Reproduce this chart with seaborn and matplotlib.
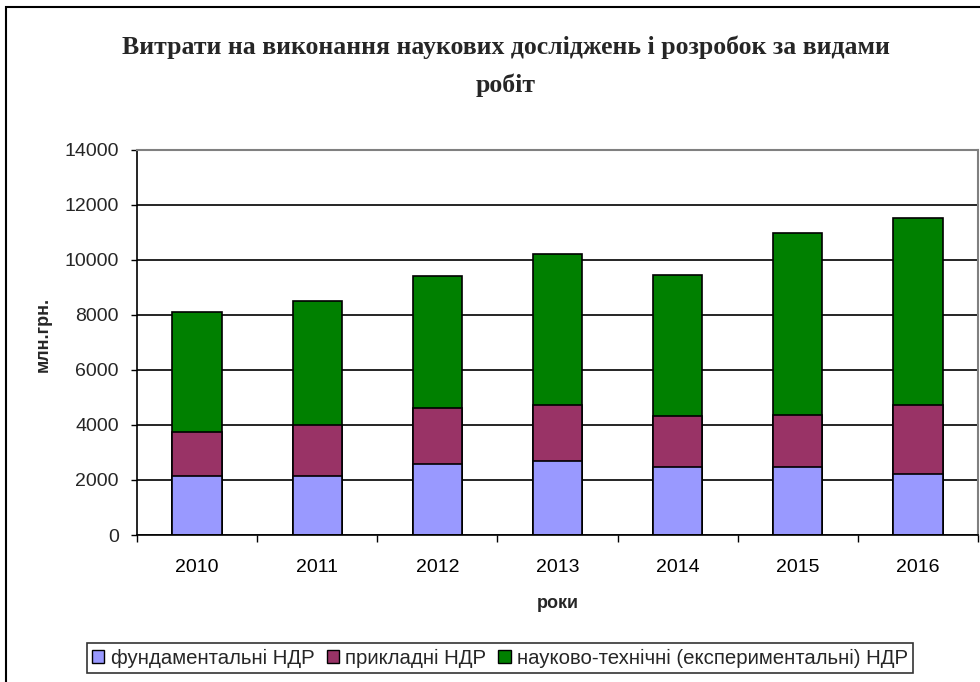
import matplotlib
matplotlib.use("Agg")
import matplotlib.pyplot as plt
import seaborn as sns
import numpy as np
import pandas as pd
from matplotlib.patches import Patch, Rectangle

years = ["2010", "2011", "2012", "2013", "2014", "2015", "2016"]
fundamental = [2160, 2160, 2585, 2706, 2464, 2464, 2221]
applied = [1578, 1833, 2051, 2039, 1881, 1917, 2524]
experimental = [4357, 4526, 4769, 5473, 5109, 6602, 6772]

series_names = ["фундаментальні НДР", "прикладні НДР",
                "науково-технічні (експериментальні) НДР"]
colors = ["#9999FF", "#993366", "#008000"]

title_line1 = "Витрати на виконання наукових досліджень і розробок за видами"
title_line2 = "робіт"
ylabel = "млн.грн."
xlabel = "роки"

sns.set_theme(style="white")
plt.rcParams['font.family'] = ['Liberation Sans', 'DejaVu Sans']

W, H = 980, 682
fig = plt.figure(figsize=(W / 100, H / 100), dpi=100)
ax = fig.add_axes([137 / W, 1 - 535 / H, (978 - 137) / W, (535 - 150) / H])

df = pd.DataFrame({"year": years, "f": fundamental, "a": applied, "e": experimental})
df["top_a"] = df["f"] + df["a"]
df["top_e"] = df["top_a"] + df["e"]

for col, c in zip(["top_e", "top_a", "f"], colors[::-1]):
    sns.barplot(data=df, x="year", y=col, color=c, edgecolor="black",
                linewidth=1.2, width=0.41, saturation=1, ax=ax, order=years)

ax.set_ylim(0, 14000)
ax.set_xlim(-0.5, len(years) - 0.5)
ax.set_yticks(np.arange(0, 14001, 2000))
ax.set_yticklabels([str(v) for v in range(0, 14001, 2000)], fontsize=14)
ax.set_xticks(range(len(years)))
ax.set_xticklabels(years, fontsize=14)
ax.set_xticks(np.arange(-0.5, len(years), 1), minor=True)
ax.tick_params(axis="x", which="major", length=0, pad=17, colors="black")
ax.tick_params(axis="x", which="minor", length=5, width=1, color="black", direction="out", bottom=True)
ax.tick_params(axis="y", which="major", length=4, width=1, color="black", direction="out", left=True, pad=9)

ax.yaxis.grid(True, color="black", linewidth=1.2)
ax.set_axisbelow(True)
for s in ["left", "bottom"]:
    ax.spines[s].set_color("black")
    ax.spines[s].set_linewidth(1.2)
for s in ["top", "right"]:
    ax.spines[s].set_color("#808080")
    ax.spines[s].set_linewidth(1.5)

ax.set_xlabel(xlabel, fontsize=13, fontweight="bold")
ax.xaxis.set_label_coords(0.5, -(604 - 535) / (535 - 150))
ax.set_ylabel(ylabel, fontsize=13, fontweight="bold")
ax.yaxis.set_label_coords(-(137 - 43) / (978 - 137), (535 - 334) / (535 - 150))
ax.yaxis.label.set_va("center")
ax.xaxis.label.set_va("center")

fig.text(506 / W, 1 - 47 / H, title_line1,
         ha="center", va="center", fontsize=18.5, fontweight="bold",
         family=["Liberation Serif", "DejaVu Serif"])
fig.text(506 / W, 1 - 85 / H, title_line2,
         ha="center", va="center", fontsize=18.5, fontweight="bold",
         family=["Liberation Serif", "DejaVu Serif"])

handles = [Patch(facecolor=c, edgecolor="black", linewidth=1) for c in colors]
leg = fig.legend(handles, series_names, loc="center", ncol=3,
                 bbox_to_anchor=(500 / W, 1 - 658 / H), fontsize=14.7,
                 frameon=True, fancybox=False, edgecolor="black",
                 handlelength=0.6, handleheight=0.6, handletextpad=0.3,
                 columnspacing=0.6, borderpad=0.25)
leg.get_frame().set_linewidth(1.2)

fig.patches.append(Rectangle((6 / W, -0.05), (W + 20) / W, 1 - 7 / H + 0.05,
                             transform=fig.transFigure, fill=False,
                             edgecolor="black", linewidth=1.5))

fig.savefig("out.png", dpi=100)
